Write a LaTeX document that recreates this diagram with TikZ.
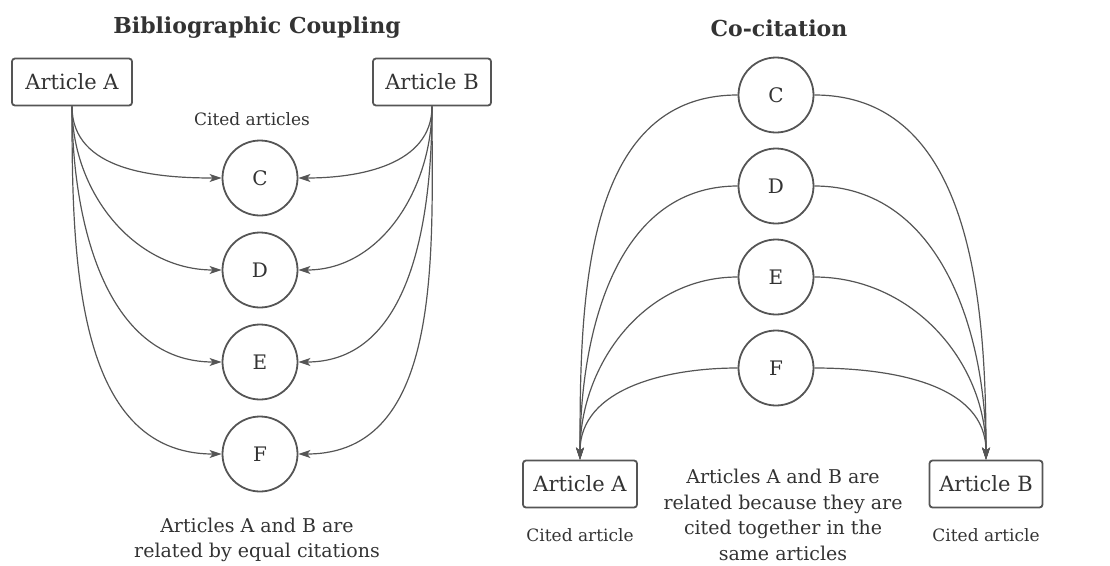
\documentclass[tikz,border=0pt]{standalone}
\usepackage{fontspec}
\setmainfont{DejaVu Serif}
\usetikzlibrary{arrows.meta}
\definecolor{ink}{HTML}{333333}
\definecolor{wire}{HTML}{555555}
\begin{document}
\begin{tikzpicture}[x=1pt,y=1pt,
  every node/.style={text=ink},
  artbox/.style={draw=wire,line width=1.8pt,rounded corners=3pt,minimum height=47pt,font=\fontsize{21}{24}\selectfont,inner sep=0pt},
  refcirc/.style={draw=wire,line width=1.8pt,circle,minimum size=75pt,inner sep=0pt,font=\fontsize{20}{22}\selectfont},
  heading/.style={font=\bfseries\fontsize{22}{26}\selectfont},
  note/.style={font=\fontsize{17}{20}\selectfont},
  caption/.style={font=\fontsize{19}{25.5}\selectfont,align=center},
  link/.style={draw=wire,line width=1.2pt},
  cite/.style={link,-{Stealth[length=12pt,width=8pt,inset=3pt]}}]
\useasboundingbox (0,0) rectangle (1110,-565);

% ---- Bibliographic coupling ----
\node[heading] (t1) at (257,-28) {Bibliographic Coupling};
\node[artbox,minimum width=120pt] (a1) at (72,-82) {Article A};
\node[artbox,minimum width=118pt] (b1) at (432,-82) {Article B};
\node[note] (cited1) at (252,-119) {Cited articles};
\foreach \n/\y in {C/178,D/270,E/362,F/454}{
  \node[refcirc] (l\n) at (260,-\y) {\n};
  \draw[cite] (a1.south) to[out=-90,in=180] (l\n.west);
  \draw[cite] (b1.south) to[out=-90,in=0] (l\n.east);
}
\node[caption] (cap1) at (257,-540) {Articles A and B are\\related by equal citations};

% ---- Co-citation ----
\node[heading] (t2) at (779,-28) {Co-citation};
\node[artbox,minimum width=114pt] (a2) at (580,-484) {Article A};
\node[artbox,minimum width=113pt] (b2) at (986,-484) {Article B};
\foreach \n/\y in {C/95,D/186,E/277,F/368}{
  \node[refcirc] (r\n) at (776,-\y) {\n};
  \draw[cite] (r\n.west) to[out=180,in=90] (a2.north);
  \draw[cite] (r\n.east) to[out=0,in=90] (b2.north);
}
\node[note] (ca) at (580,-535) {Cited article};
\node[note] (cb) at (986,-535) {Cited article};
\node[caption] (cap2) at (783,-515) {Articles A and B are\\related because they are\\cited together in the\\same articles};
\end{tikzpicture}
\end{document}
